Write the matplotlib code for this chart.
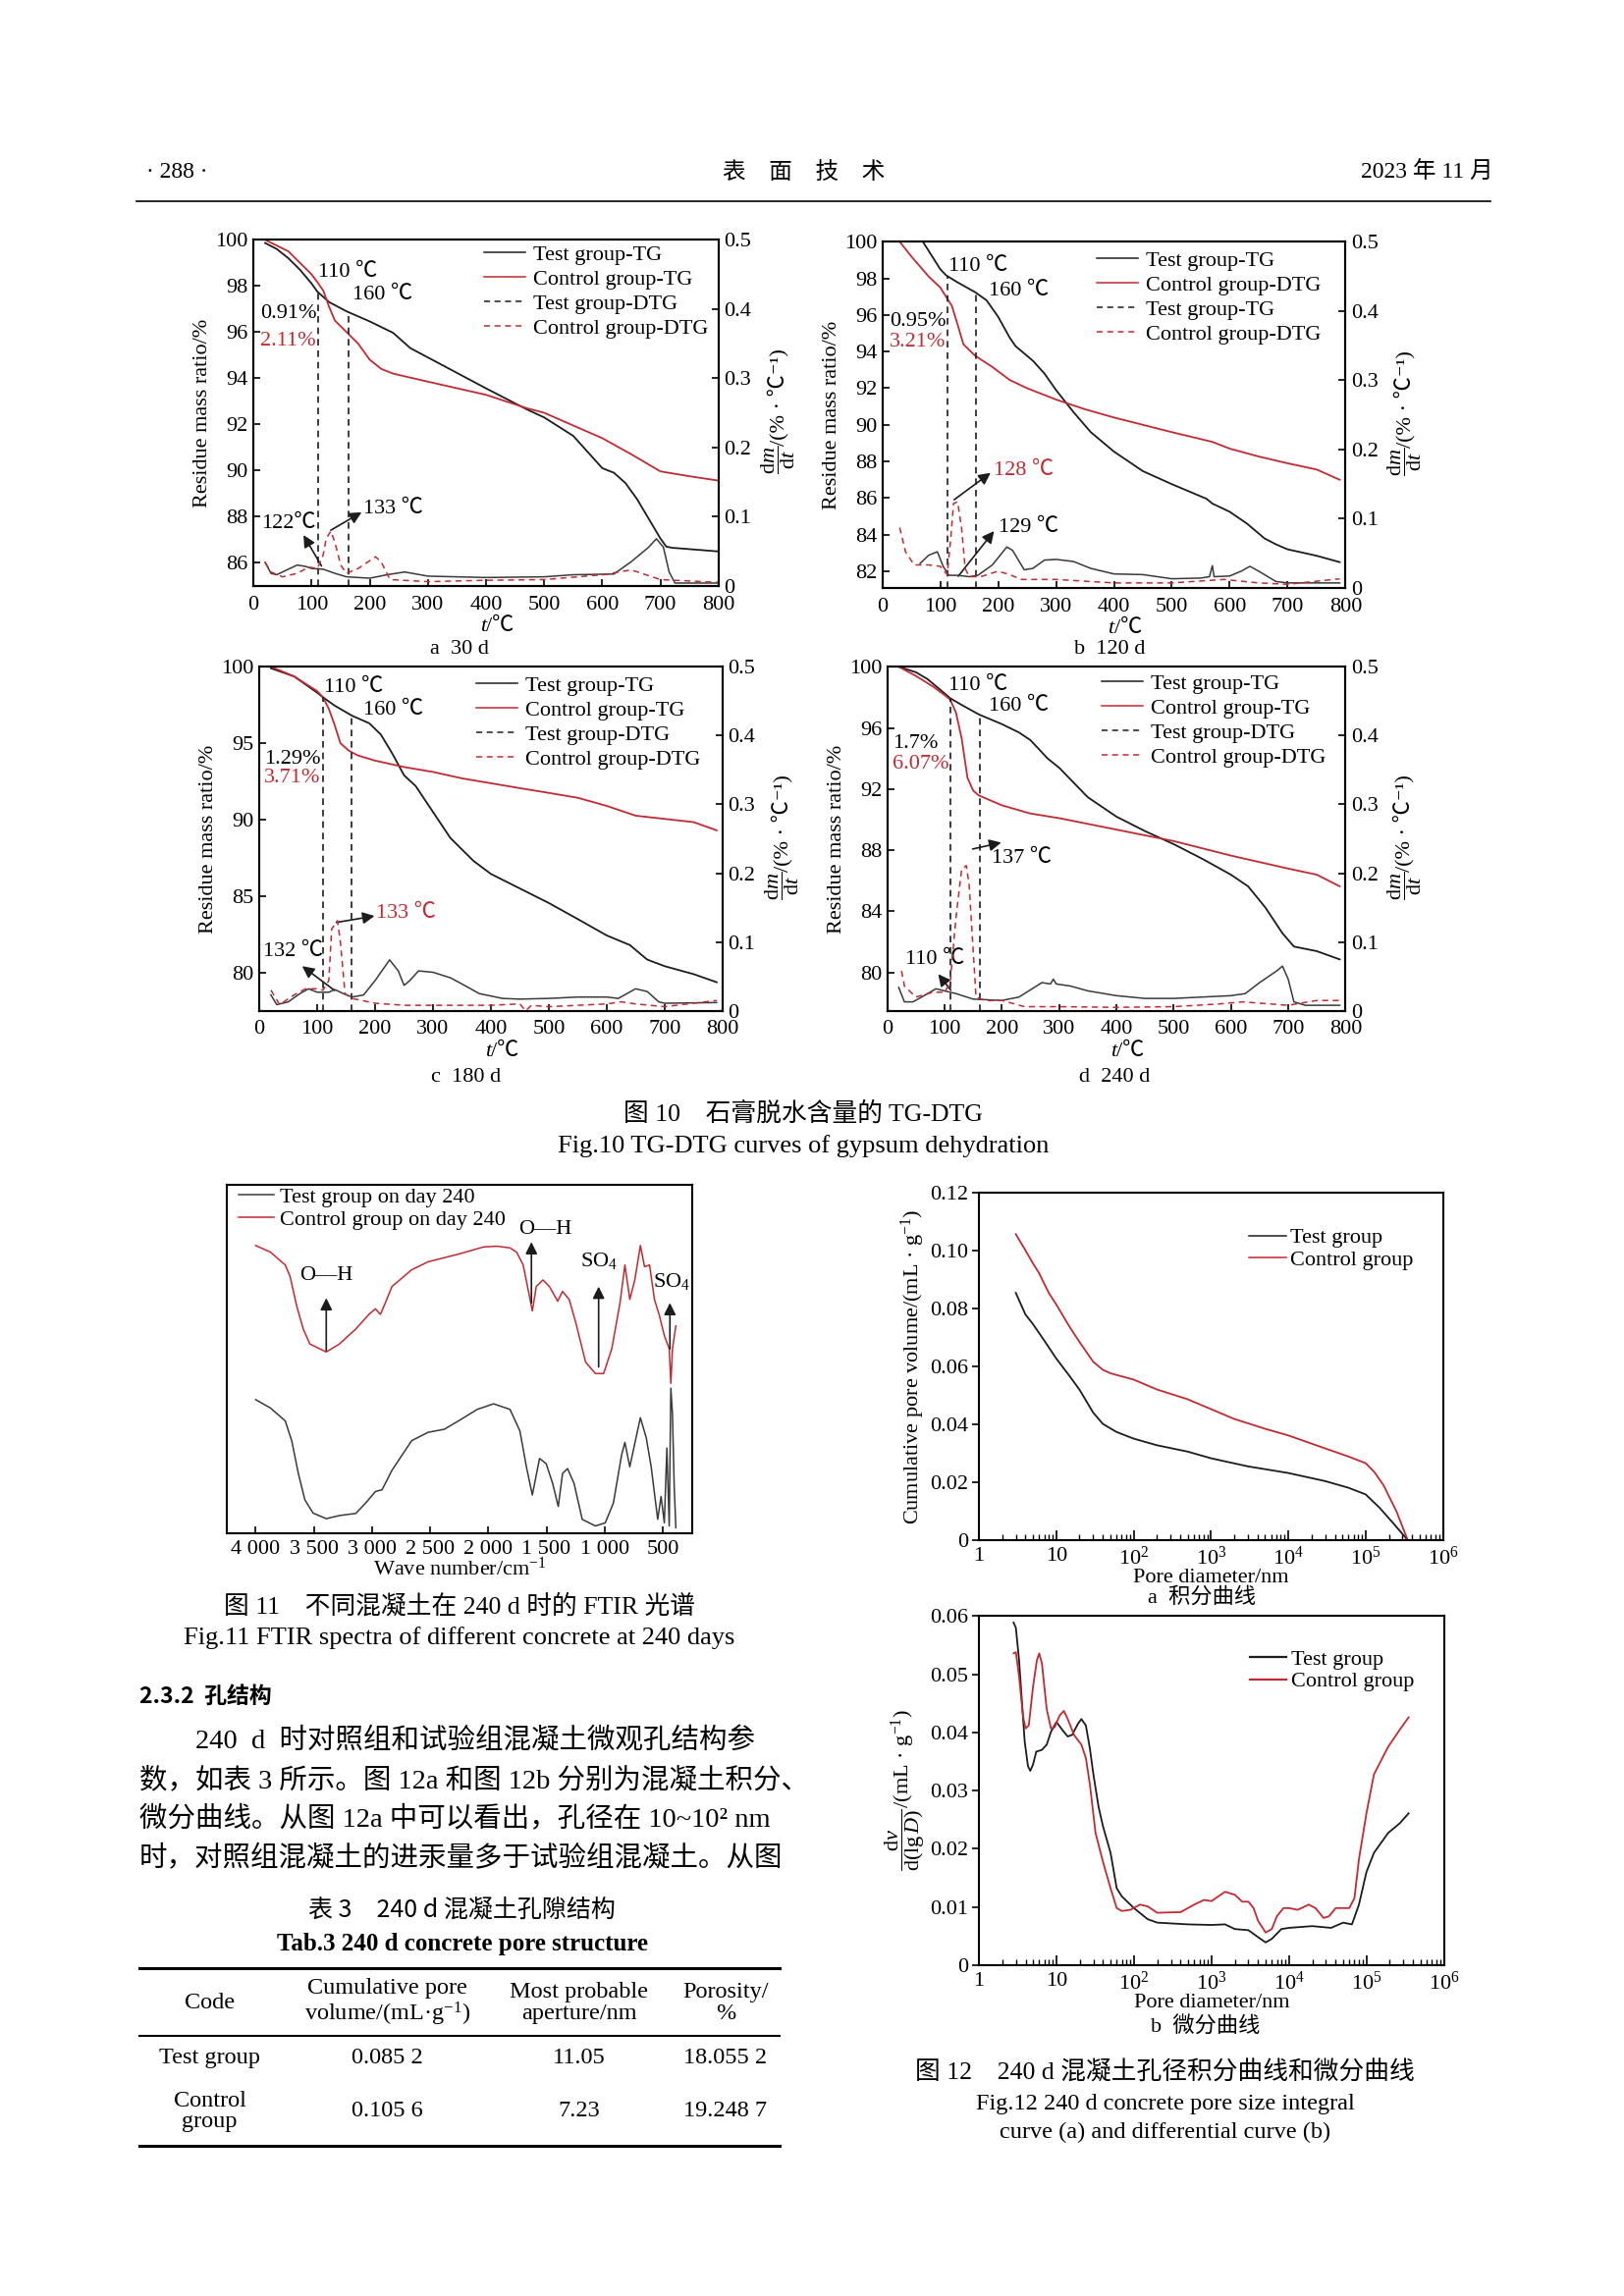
import numpy as np
import matplotlib
matplotlib.use('Agg')
import matplotlib.pyplot as plt
from matplotlib.lines import Line2D
from matplotlib.ticker import FixedLocator, LogLocator, NullFormatter

plt.rcParams['font.family'] = ['Liberation Serif', 'Noto Sans CJK SC', 'DejaVu Sans']
plt.rcParams['mathtext.fontset'] = 'custom'
plt.rcParams['mathtext.rm'] = 'Liberation Serif'
plt.rcParams['mathtext.it'] = 'Liberation Serif:italic'
plt.rcParams['mathtext.bf'] = 'Liberation Serif:bold'
plt.rcParams['axes.linewidth'] = 1.5

# ---------------- data: Fig.10 TG-DTG ----------------
# panel a (30 d)
a_tg_test_t = [20, 40, 60, 80, 100, 110, 130, 160, 200, 240, 270, 300, 400, 470, 500, 550, 600, 620, 640, 660, 680, 700, 710, 720, 760, 800]
a_tg_test = [99.86, 99.6, 99.2, 98.7, 98.1, 97.75, 97.3, 96.9, 96.46, 95.97, 95.3, 94.9, 93.56, 92.65, 92.3, 91.5, 90.1, 89.9, 89.45, 88.75, 87.9, 87.05, 86.7, 86.65, 86.57, 86.49]
a_tg_ctrl_t = [20, 60, 100, 110, 120, 130, 140, 160, 180, 200, 220, 240, 300, 400, 470, 500, 600, 650, 700, 750, 800]
a_tg_ctrl = [100, 99.5, 98.5, 98.16, 97.8, 97.1, 96.5, 96.0, 95.5, 94.8, 94.4, 94.2, 93.85, 93.28, 92.7, 92.5, 91.4, 90.7, 89.96, 89.75, 89.56]
a_dtg_test_t = [20, 30, 40, 55, 75, 90, 100, 120, 140, 160, 200, 230, 260, 300, 400, 500, 550, 620, 650, 680, 693, 705, 715, 725, 800]
a_dtg_test = [0.034, 0.018, 0.016, 0.022, 0.030, 0.028, 0.025, 0.024, 0.018, 0.013, 0.011, 0.016, 0.020, 0.014, 0.012, 0.013, 0.016, 0.017, 0.035, 0.056, 0.068, 0.056, 0.020, 0.004, 0.004]
a_dtg_ctrl_t = [20, 30, 50, 75, 95, 110, 120, 125, 133, 140, 150, 160, 180, 210, 220, 235, 300, 400, 500, 600, 650, 700, 800]
a_dtg_ctrl = [0.034, 0.020, 0.013, 0.018, 0.027, 0.025, 0.045, 0.068, 0.079, 0.063, 0.030, 0.018, 0.025, 0.042, 0.034, 0.009, 0.006, 0.008, 0.009, 0.016, 0.023, 0.009, 0.005]

# panel b (120 d)
b_tg_test_t = [70, 90, 100, 110, 130, 160, 180, 200, 220, 230, 260, 280, 300, 330, 360, 400, 450, 500, 560, 570, 600, 630, 660, 680, 700, 750, 790]
b_tg_test = [100, 99.0, 98.5, 98.17, 97.78, 97.25, 96.8, 95.9, 94.76, 94.3, 93.5, 92.8, 91.9, 90.7, 89.6, 88.54, 87.47, 86.76, 85.96, 85.7, 85.25, 84.6, 83.8, 83.47, 83.2, 82.85, 82.5]
b_tg_ctrl_t = [30, 50, 80, 100, 110, 120, 130, 140, 160, 190, 220, 250, 300, 350, 400, 500, 570, 600, 650, 700, 750, 790]
b_tg_ctrl = [100, 99.2, 98.1, 97.5, 97.0, 96.5, 95.47, 94.4, 93.78, 93.16, 92.45, 92.0, 91.38, 90.85, 90.4, 89.6, 89.07, 88.7, 88.27, 87.9, 87.56, 87.0]
b_dtg_test_t = [65, 80, 95, 105, 115, 130, 150, 165, 190, 215, 225, 245, 260, 280, 300, 330, 360, 400, 450, 500, 550, 565, 570, 573, 600, 620, 635, 650, 680, 700, 790]
b_dtg_test = [0.035, 0.047, 0.052, 0.031, 0.018, 0.018, 0.016, 0.018, 0.033, 0.059, 0.054, 0.026, 0.028, 0.040, 0.041, 0.038, 0.028, 0.020, 0.019, 0.013, 0.014, 0.016, 0.032, 0.016, 0.017, 0.024, 0.031, 0.024, 0.009, 0.007, 0.007]
b_dtg_ctrl_t = [30, 40, 55, 80, 100, 112, 118, 123, 130, 137, 143, 150, 170, 200, 220, 240, 300, 400, 500, 590, 650, 700, 790]
b_dtg_ctrl = [0.087, 0.052, 0.033, 0.033, 0.031, 0.019, 0.070, 0.122, 0.124, 0.085, 0.028, 0.016, 0.016, 0.024, 0.019, 0.012, 0.012, 0.007, 0.007, 0.012, 0.007, 0.005, 0.013]

# panel c (180 d)
c_tg_test_t = [20, 60, 100, 110, 130, 160, 190, 210, 230, 250, 270, 300, 330, 370, 400, 450, 500, 550, 600, 640, 670, 700, 750, 790]
c_tg_test = [99.9, 99.37, 98.3, 98.0, 97.46, 96.8, 96.3, 95.56, 94.3, 92.9, 92.2, 90.5, 88.8, 87.3, 86.45, 85.5, 84.55, 83.5, 82.43, 81.8, 80.85, 80.42, 79.9, 79.37]
c_tg_ctrl_t = [20, 60, 100, 110, 120, 130, 140, 155, 170, 200, 250, 300, 350, 400, 450, 500, 550, 600, 650, 700, 750, 790]
c_tg_ctrl = [100, 99.37, 98.4, 98.0, 97.25, 96.2, 95.0, 94.5, 94.2, 93.86, 93.44, 93.12, 92.7, 92.38, 92.06, 91.75, 91.43, 90.9, 90.26, 90.05, 89.84, 89.3]
c_dtg_test_t = [20, 30, 50, 70, 85, 100, 120, 130, 145, 160, 180, 200, 225, 240, 250, 260, 275, 300, 330, 350, 380, 420, 450, 500, 550, 600, 620, 650, 670, 690, 700, 790]
c_dtg_test = [0.023, 0.009, 0.013, 0.025, 0.032, 0.027, 0.027, 0.031, 0.025, 0.020, 0.023, 0.044, 0.074, 0.058, 0.037, 0.044, 0.058, 0.056, 0.048, 0.039, 0.025, 0.018, 0.017, 0.018, 0.020, 0.020, 0.018, 0.032, 0.028, 0.013, 0.011, 0.012]
c_dtg_ctrl_t = [20, 25, 35, 60, 80, 100, 110, 120, 125, 135, 140, 148, 160, 200, 250, 400, 450, 460, 470, 500, 600, 625, 650, 700, 790]
c_dtg_ctrl = [0.030, 0.023, 0.009, 0.023, 0.032, 0.032, 0.030, 0.044, 0.119, 0.131, 0.100, 0.025, 0.018, 0.011, 0.008, 0.008, 0.010, 0.0, 0.008, 0.006, 0.010, 0.013, 0.010, 0.006, 0.015]

# panel d (240 d)
d_tg_test_t = [20, 50, 70, 100, 110, 130, 160, 200, 230, 250, 280, 300, 350, 400, 450, 500, 550, 600, 630, 660, 690, 710, 750, 790]
d_tg_test = [100, 99.64, 99.2, 98.26, 97.94, 97.5, 96.88, 96.25, 95.7, 95.2, 94.0, 93.4, 91.47, 90.2, 89.25, 88.4, 87.44, 86.4, 85.64, 84.26, 82.57, 81.7, 81.4, 80.86]
d_tg_ctrl_t = [20, 50, 80, 100, 110, 120, 130, 140, 150, 160, 200, 250, 300, 400, 500, 600, 700, 750, 790]
d_tg_ctrl = [100, 99.4, 98.7, 98.15, 97.84, 97.0, 95.3, 92.75, 91.9, 91.58, 90.94, 90.4, 90.1, 89.35, 88.6, 87.65, 86.8, 86.4, 85.64]
d_dtg_test_t = [20, 30, 45, 60, 85, 100, 120, 150, 200, 230, 270, 285, 290, 295, 320, 350, 400, 450, 500, 600, 625, 650, 680, 690, 700, 710, 730, 790]
d_dtg_test = [0.034, 0.013, 0.013, 0.020, 0.032, 0.029, 0.025, 0.017, 0.015, 0.020, 0.041, 0.039, 0.046, 0.039, 0.036, 0.029, 0.022, 0.018, 0.018, 0.022, 0.025, 0.041, 0.058, 0.065, 0.046, 0.013, 0.008, 0.008]
d_dtg_ctrl_t = [25, 30, 50, 80, 100, 110, 120, 130, 138, 143, 150, 155, 170, 200, 240, 300, 400, 500, 580, 620, 700, 750, 790]
d_dtg_ctrl = [0.058, 0.036, 0.020, 0.027, 0.027, 0.041, 0.136, 0.206, 0.211, 0.183, 0.088, 0.020, 0.015, 0.015, 0.006, 0.006, 0.005, 0.006, 0.010, 0.013, 0.008, 0.015, 0.015]

tg_xticks = [0, 100, 200, 300, 400, 500, 600, 700, 800]
dtg_ticks = [0, 0.1, 0.2, 0.3, 0.4, 0.5]
dtg_ticklabels = ['0', '0.1', '0.2', '0.3', '0.4', '0.5']
legend_std = ['Test group-TG', 'Control group-TG', 'Test group-DTG', 'Control group-DTG']
legend_b = ['Test group-TG', 'Control group-DTG', 'Test group-TG', 'Control group-DTG']

# ---------------- data: Fig.11 FTIR ----------------
ftir_ctrl_w = [4000, 3873, 3746, 3704, 3647, 3591, 3534, 3393, 3280, 3139, 3026, 2970, 2927, 2885, 2828, 2659, 2518, 2236, 2038, 1925, 1813, 1756, 1700, 1657, 1621, 1587, 1530, 1474, 1403, 1361, 1304, 1248, 1163, 1079, 1008, 938, 867, 825, 783, 740, 692, 656, 613, 571, 528, 486, 444, 430, 416, 387]
ftir_ctrl = [82.7, 80.8, 77.1, 73.8, 65.3, 58.7, 54.4, 52.1, 54.4, 58.7, 62.9, 64.5, 62.9, 66.2, 70.9, 75.7, 78.0, 80.4, 82.3, 82.5, 82.0, 80.8, 77.1, 70.0, 63.9, 70.9, 72.8, 70.9, 66.7, 69.5, 67.2, 60.6, 49.2, 45.9, 45.9, 53.0, 66.2, 77.1, 67.2, 72.8, 82.7, 76.6, 77.1, 67.2, 62.5, 56.8, 53.0, 43.1, 53.0, 59.6]
ftir_test_w = [4000, 3873, 3746, 3690, 3633, 3577, 3506, 3393, 3280, 3139, 3054, 2970, 2913, 2828, 2659, 2518, 2377, 2236, 2095, 1954, 1813, 1728, 1672, 1621, 1559, 1502, 1446, 1398, 1361, 1318, 1262, 1192, 1079, 994, 924, 853, 825, 783, 735, 692, 642, 599, 571, 543, 514, 486, 464, 444, 430, 416, 401, 387]
ftir_test = [38.4, 36.0, 32.3, 26.6, 17.2, 9.6, 5.8, 4.2, 5.1, 5.7, 8.7, 12.0, 12.5, 18.1, 26.6, 29.0, 29.9, 32.7, 35.6, 37.2, 35.6, 29.4, 19.1, 11.0, 21.5, 20.0, 14.3, 7.7, 17.2, 18.6, 14.3, 4.0, 2.1, 3.0, 8.7, 22.6, 26.1, 19.1, 26.6, 33.2, 27.5, 19.1, 11.5, 4.0, 10.6, 3.0, 24.5, 2.1, 41.7, 34.2, 13.4, 1.6]
ftir_ticks = [4000, 3500, 3000, 2500, 2000, 1500, 1000, 500]
ftir_ticklabels = ['4 000', '3 500', '3 000', '2 500', '2 000', '1 500', '1 000', '500']
ftir_legend = ['Test group on day 240', 'Control group on day 240']

# ---------------- data: Fig.12 pore structure ----------------
cum_test_d = [3, 4, 5, 7, 10, 15, 20, 30, 40, 60, 100, 200, 500, 1000, 3000, 1e4, 3e4, 6e4, 1e5, 1.5e5, 2.3e5, 3.5e5]
cum_test = [0.0855, 0.078, 0.0747, 0.069, 0.0628, 0.0566, 0.052, 0.0441, 0.0402, 0.0374, 0.0351, 0.0328, 0.0306, 0.0283, 0.0255, 0.0232, 0.0204, 0.0181, 0.0158, 0.0113, 0.0057, 0.0]
cum_ctrl_d = [3, 4, 5, 6, 8, 10, 15, 20, 30, 40, 50, 100, 200, 500, 1000, 2000, 5000, 1e4, 3e4, 6e4, 1e5, 1.3e5, 1.7e5, 2.5e5, 3.5e5]
cum_ctrl = [0.1058, 0.1002, 0.0957, 0.0923, 0.0855, 0.0815, 0.0736, 0.0685, 0.0617, 0.0589, 0.0577, 0.0555, 0.0521, 0.0487, 0.0453, 0.0419, 0.0385, 0.0362, 0.0317, 0.0289, 0.0266, 0.0235, 0.019, 0.010, 0.0]
dif_test_d = [2.8, 3.0, 3.3, 3.6, 3.9, 4.3, 4.6, 5.0, 5.5, 6.5, 7.5, 8.5, 10, 12, 14, 16, 19, 21, 24, 27, 30, 35, 40, 50, 60, 70, 100, 150, 200, 500, 1000, 1500, 2000, 3000, 4000, 5000, 6000, 8000, 1e4, 2e4, 3.5e4, 5e4, 6.5e4, 8e4, 1e5, 1.25e5, 1.9e5, 2.7e5, 3.5e5]
dif_test = [0.0589, 0.058, 0.0524, 0.0451, 0.0384, 0.0342, 0.0334, 0.0345, 0.0367, 0.037, 0.0379, 0.0401, 0.0418, 0.0404, 0.0393, 0.0396, 0.0415, 0.0423, 0.0412, 0.0373, 0.0328, 0.0272, 0.0238, 0.0193, 0.0132, 0.0118, 0.0098, 0.0079, 0.0073, 0.007, 0.0069, 0.007, 0.0062, 0.006, 0.0048, 0.0039, 0.0045, 0.0062, 0.0064, 0.0067, 0.0064, 0.0073, 0.007, 0.0104, 0.016, 0.0193, 0.0227, 0.0244, 0.0261]
dif_ctrl_d = [2.8, 3.0, 3.3, 3.7, 4.0, 4.4, 5.0, 5.6, 6.0, 6.5, 7.5, 8.5, 9.5, 11, 12.5, 14, 17, 21, 24, 27, 32, 40, 50, 60, 70, 90, 120, 150, 200, 400, 600, 800, 1000, 1500, 2000, 2500, 3000, 3500, 4000, 5000, 6000, 7000, 8500, 1e4, 1.3e4, 1.8e4, 2.2e4, 2.8e4, 3.3e4, 4e4, 5e4, 6e4, 7e4, 8e4, 1e5, 1.25e5, 1.9e5, 2.7e5, 3.5e5]
dif_ctrl = [0.0536, 0.0538, 0.0496, 0.0429, 0.0407, 0.0412, 0.0479, 0.0524, 0.0536, 0.0519, 0.044, 0.0407, 0.0409, 0.0429, 0.0437, 0.0423, 0.0395, 0.0379, 0.0356, 0.0311, 0.0227, 0.0177, 0.0132, 0.0098, 0.0093, 0.0095, 0.0104, 0.0101, 0.009, 0.0091, 0.0104, 0.0112, 0.011, 0.0126, 0.0121, 0.0109, 0.0109, 0.0098, 0.0076, 0.0056, 0.0062, 0.0084, 0.0098, 0.0098, 0.0095, 0.0104, 0.0098, 0.0081, 0.0084, 0.0098, 0.0098, 0.0098, 0.0115, 0.0182, 0.0261, 0.0328, 0.0375, 0.0405, 0.0426]
pore_xticks = [1, 10, 100, 1e3, 1e4, 1e5, 1e6]
pore_xticklabels = ['1', '10', '10$^2$', '10$^3$', '10$^4$', '10$^5$', '10$^6$']
cum_yticks = [0, 0.02, 0.04, 0.06, 0.08, 0.10, 0.12]
cum_yticklabels = ['0', '0.02', '0.04', '0.06', '0.08', '0.10', '0.12']
dif_yticks = [0, 0.01, 0.02, 0.03, 0.04, 0.05, 0.06]
dif_yticklabels = ['0', '0.01', '0.02', '0.03', '0.04', '0.05', '0.06']
pore_legend = ['Test group', 'Control group']

# ---------------- data: Tab.3 ----------------
tab_header = ['Code', 'Cumulative pore\nvolume/(mL·g$^{-1}$)', 'Most probable\naperture/nm', 'Porosity/\n%']
tab_codes = ['Test group', 'Control\ngroup']
tab_cum_volume = ['0.085 2', '0.105 6']
tab_aperture = ['11.05', '7.23']
tab_porosity = ['18.055 2', '19.248 7']

# ---------------- figure ----------------
W, H = 1654, 2339
K = 0.993  # page-coordinate calibration
fig = plt.figure(figsize=(W / 100, H / 100), dpi=100)
BLACK = '#1c1c1c'
GRAY = '#3a3a3a'
RED = '#c22a32'
FS = 16
LW = 1.3


def add_ax(x0, y0, x1, y1):
    x0, y0, x1, y1 = [v * K for v in (x0, y0, x1, y1)]
    return fig.add_axes([x0 / W, 1 - y1 / H, (x1 - x0) / W, (y1 - y0) / H])


def ftext(x, y, s, **kw):
    kw.setdefault('ha', 'center')
    kw.setdefault('va', 'center')
    return fig.text(x * K / W, 1 - y * K / H, s, **kw)


def hrule(x0, x1, y, lw):
    fig.add_artist(Line2D([x0 * K / W, x1 * K / W], [1 - y * K / H, 1 - y * K / H], color='black', lw=lw))


def arrow(ax, tip, tail, color=BLACK):
    ax.annotate('', xy=tip, xytext=tail,
                arrowprops=dict(arrowstyle='-|>', color=color, lw=1.2, mutation_scale=18, shrinkA=0, shrinkB=0))


def tg_panel(box, ylim, yticks, tg_test_t, tg_test, tg_ctrl_t, tg_ctrl,
             dtg_test_t, dtg_test, dtg_ctrl_t, dtg_ctrl, marks, labels, leg_anchor):
    ax = add_ax(*box)
    ax.plot(tg_test_t, tg_test, color=BLACK, lw=LW)
    ax.plot(tg_ctrl_t, tg_ctrl, color=RED, lw=LW)
    ax.set_xlim(0, 800)
    ax.set_ylim(*ylim)
    ax.set_xticks(tg_xticks)
    ax.set_yticks(yticks)
    ax.tick_params(labelsize=FS, direction='in', length=5, width=1.2, pad=4)
    ax.tick_params(axis='x', pad=7)
    ax.set_ylabel('Residue mass ratio/%', fontsize=FS, labelpad=2)
    # x label "t/℃" (italic t)
    ax.text(0.5, -0.118, 't', transform=ax.transAxes, fontsize=FS, style='italic', ha='right', va='center')
    ax.text(0.5, -0.118, '/℃', transform=ax.transAxes, fontsize=FS, ha='left', va='center')
    for t in marks:
        top = np.interp(t, tg_test_t, tg_test)
        ax.vlines(t, ylim[0], top, colors=BLACK, linestyles=(0, (4, 3)), lw=1.2)
    tw = ax.twinx()
    tw.plot(dtg_test_t, dtg_test, color=GRAY, lw=1.1)
    tw.plot(dtg_ctrl_t, dtg_ctrl, color=RED, lw=1.1, ls=(0, (4, 3)))
    tw.set_ylim(0, 0.5)
    tw.set_yticks(dtg_ticks)
    tw.set_yticklabels(dtg_ticklabels)
    tw.tick_params(labelsize=FS, direction='in', length=5, width=1.2, pad=4)
    # right label: dm/dt /(%·℃^-1)
    tw.text(1.128, 0.405, r'$\dfrac{\mathrm{d}m}{\mathrm{d}t}$', transform=tw.transAxes, fontsize=FS,
            rotation=90, ha='center', va='top')
    tw.text(1.128, 0.405, '/(% · ℃⁻¹)', transform=tw.transAxes, fontsize=FS,
            rotation=90, ha='center', va='bottom')
    handles = [Line2D([], [], color=BLACK, lw=1.1), Line2D([], [], color=RED, lw=1.1),
               Line2D([], [], color=BLACK, lw=1.1, ls=(0, (4, 3))), Line2D([], [], color=RED, lw=1.1, ls=(0, (4, 3)))]
    ax.legend(handles, labels, loc='upper left', bbox_to_anchor=leg_anchor, frameon=False,
              fontsize=FS, handlelength=1.9, handletextpad=0.35, labelspacing=0.2,
              borderpad=0, borderaxespad=0)
    return ax


# panel a
axa = tg_panel((260, 246, 737, 601), (85, 100), [86, 88, 90, 92, 94, 96, 98, 100],
               a_tg_test_t, a_tg_test, a_tg_ctrl_t, a_tg_ctrl,
               a_dtg_test_t, a_dtg_test, a_dtg_ctrl_t, a_dtg_ctrl, [112, 164], legend_std, (0.495, 0.985))
axa.text(111, 98.6, '110 ℃', fontsize=FS, va='center')
axa.text(171, 97.6, '160 ℃', fontsize=FS, va='center')
axa.text(12, 96.8, '0.91%', fontsize=FS, va='center')
axa.text(12, 95.6, '2.11%', fontsize=FS, va='center', color=RED)
axa.text(14, 87.7, '122℃', fontsize=FS, va='center')
axa.text(189, 88.33, '133 ℃', fontsize=FS, va='center')
arrow(axa, (86, 87.2), (117, 85.86))
arrow(axa, (186, 88.19), (133, 87.41))
ftext(471, 666, 'a  30 d', fontsize=FS)

# panel b
axb = tg_panel((905, 248, 1380, 603), (81.1, 100), [82, 84, 86, 88, 90, 92, 94, 96, 98, 100],
               b_tg_test_t, b_tg_test, b_tg_ctrl_t, b_tg_ctrl,
               b_dtg_test_t, b_dtg_test, b_dtg_ctrl_t, b_dtg_ctrl, [112, 162], legend_b, (0.462, 0.975))
axb.text(115, 98.67, '110 ℃', fontsize=FS, va='center')
axb.text(184, 97.33, '160 ℃', fontsize=FS, va='center')
axb.text(13, 95.65, '0.95%', fontsize=FS, va='center')
axb.text(13, 94.5, '3.21%', fontsize=FS, va='center', color=RED)
axb.text(193, 87.47, '128 ℃', fontsize=FS, va='center', color=RED)
axb.text(201, 84.36, '129 ℃', fontsize=FS, va='center')
arrow(axb, (187, 87.38), (124, 85.91))
arrow(axb, (193, 84.2), (131, 81.73))
ftext(1138, 666, 'b  120 d', fontsize=FS)

# panel c
axc = tg_panel((266, 684, 741, 1037), (77.5, 100), [80, 85, 90, 95, 100],
               c_tg_test_t, c_tg_test, c_tg_ctrl_t, c_tg_ctrl,
               c_dtg_test_t, c_dtg_test, c_dtg_ctrl_t, c_dtg_ctrl, [110, 160], legend_std, (0.468, 0.975))
axc.text(111, 98.62, '110 ℃', fontsize=FS, va='center')
axc.text(180, 97.14, '160 ℃', fontsize=FS, va='center')
axc.text(8, 93.97, '1.29%', fontsize=FS, va='center')
axc.text(8, 92.7, '3.71%', fontsize=FS, va='center', color=RED)
axc.text(202, 83.85, '133 ℃', fontsize=FS, va='center', color=RED)
axc.text(6, 81.38, '132 ℃', fontsize=FS, va='center')
arrow(axc, (199, 83.7), (133, 83.28))
arrow(axc, (74, 80.42), (130, 78.83))
ftext(478, 1105, 'c  180 d', fontsize=FS)

# panel d
axd = tg_panel((910, 684, 1380, 1037), (77.5, 100), [80, 84, 88, 92, 96, 100],
               d_tg_test_t, d_tg_test, d_tg_ctrl_t, d_tg_ctrl,
               d_dtg_test_t, d_dtg_test, d_dtg_ctrl_t, d_dtg_ctrl, [111, 161], legend_std, (0.468, 0.98))
axd.text(107, 98.79, '110 ℃', fontsize=FS, va='center')
axd.text(177, 97.41, '160 ℃', fontsize=FS, va='center')
axd.text(9, 94.97, '1.7%', fontsize=FS, va='center')
axd.text(9, 93.64, '6.07%', fontsize=FS, va='center', color=RED)
axd.text(183, 87.44, '137 ℃', fontsize=FS, va='center')
axd.text(32, 80.87, '110 ℃', fontsize=FS, va='center')
arrow(axd, (199, 88.5), (149, 88.08))
arrow(axd, (89, 79.9), (111, 78.85))
ftext(1143, 1105, 'd  240 d', fontsize=FS)

# ---------------- FTIR ----------------
axf = add_ax(233, 1216, 710, 1573)
axf.plot(ftir_test_w, ftir_test, color=GRAY, lw=1.1)
axf.plot(ftir_ctrl_w, ftir_ctrl, color=RED, lw=1.1)
axf.set_xlim(4245, 246)
axf.set_ylim(0, 100)
axf.set_yticks([])
axf.set_xticks(ftir_ticks)
axf.set_xticklabels(ftir_ticklabels)
axf.tick_params(labelsize=FS, direction='in', length=5, width=1.2, pad=5)
axf.set_xlabel('Wave number/cm$^{-1}$', fontsize=FS, labelpad=-1)
axf.legend([Line2D([], [], color=GRAY, lw=1.1), Line2D([], [], color=RED, lw=1.1)],
           ftir_legend, loc='upper left',
           bbox_to_anchor=(0.025, 0.995), frameon=False, fontsize=FS, handlelength=1.6,
           handletextpad=0.3, labelspacing=0.1, borderpad=0, borderaxespad=0)
for w, y0, y1, lab, tx, ty in [(3393, 52.5, 67.6, 'O—H', 3393, 71.5), (1629, 66.2, 83.7, 'O—H', 1511, 84.5),
                               (1051, 47.8, 70.9, 'SO$_4$', 1051, 75.2), (438, 53.0, 66.2, 'SO$_4$', 425, 69.5)]:
    arrow(axf, (w, y1), (w, y0))
    axf.text(tx, ty, lab, fontsize=FS, ha='center', va='bottom')
ftext(471, 1648, '图 11　不同混凝土在 240 d 时的 FTIR 光谱', fontsize=18.5)
ftext(471, 1680, 'Fig.11 FTIR spectra of different concrete at 240 days', fontsize=19)

# ---------------- pore curves ----------------
def pore_axes(box):
    ax = add_ax(*box)
    ax.set_xscale('log')
    ax.set_xlim(1, 1e6)
    ax.xaxis.set_major_locator(FixedLocator(pore_xticks))
    ax.set_xticklabels(pore_xticklabels)
    ax.xaxis.set_minor_locator(LogLocator(base=10, subs=np.arange(2, 10), numticks=20))
    ax.xaxis.set_minor_formatter(NullFormatter())
    ax.tick_params(axis='x', which='major', direction='in', length=7, width=1.2, labelsize=FS, pad=5)
    ax.tick_params(axis='x', which='minor', direction='in', length=4, width=1.0)
    ax.tick_params(axis='y', direction='out', length=5, width=1.2, labelsize=FS, pad=3)
    ax.set_xlabel('Pore diameter/nm', fontsize=FS, labelpad=-1)
    return ax


axp = pore_axes((1004, 1224, 1480, 1580))
axp.plot(cum_test_d, cum_test, color=BLACK, lw=LW)
axp.plot(cum_ctrl_d, cum_ctrl, color=RED, lw=LW)
axp.set_ylim(0, 0.12)
axp.set_yticks(cum_yticks)
axp.set_yticklabels(cum_yticklabels)
axp.set_ylabel('Cumulative pore volume/(mL · g$^{-1}$)', fontsize=FS, labelpad=2)
axp.legend([Line2D([], [], color=BLACK, lw=1.1), Line2D([], [], color=RED, lw=1.1)], pore_legend,
           loc='upper left', bbox_to_anchor=(0.582, 0.9), frameon=False, fontsize=FS,
           handlelength=1.7, handletextpad=0.2, labelspacing=0.1, borderpad=0, borderaxespad=0)
ftext(1233, 1639, 'a  积分曲线', fontsize=FS)

axq = pore_axes((1004, 1658, 1481, 2016))
axq.plot(dif_test_d, dif_test, color=BLACK, lw=LW)
axq.plot(dif_ctrl_d, dif_ctrl, color=RED, lw=LW)
axq.set_ylim(0, 0.06)
axq.set_yticks(dif_yticks)
axq.set_yticklabels(dif_yticklabels)
axq.set_ylabel(r'$\dfrac{\mathrm{d}v}{\mathrm{d}(\mathrm{lg}\,D)}$/(mL · g$^{-1}$)', fontsize=FS, labelpad=2)
axq.legend([Line2D([], [], color=BLACK, lw=1.6), Line2D([], [], color=RED, lw=1.6)], pore_legend,
           loc='upper left', bbox_to_anchor=(0.582, 0.905), frameon=False, fontsize=FS,
           handlelength=1.7, handletextpad=0.2, labelspacing=0.1, borderpad=0, borderaxespad=0)
ftext(1236, 2080, 'b  微分曲线', fontsize=FS)

# ---------------- page text ----------------
hrule(140, 1529, 206, 1.2)
ftext(150, 177, '· 288 ·', fontsize=17, ha='left')
ftext(824, 177, '表　面　技　术', fontsize=17)
ftext(1531, 177, '2023 年 11 月', fontsize=17, ha='right')

ftext(824, 1143, '图 10　石膏脱水含量的 TG-DTG', fontsize=18.5)
ftext(824, 1176, 'Fig.10 TG-DTG curves of gypsum dehydration', fontsize=19)

ftext(143, 1740, '2.3.2  孔结构', fontsize=16.5, ha='left', family=['Noto Sans CJK SC'], weight='bold')
body_lines = ['240  d  时对照组和试验组混凝土微观孔结构参',
              '数，如表 3 所示。图 12a 和图 12b 分别为混凝土积分、',
              '微分曲线。从图 12a 中可以看出，孔径在 10~10² nm',
              '时，对照组混凝土的进汞量多于试验组混凝土。从图']
body_x = [200, 143, 143, 143]
body_y = [1786, 1827, 1866, 1907]
for s, x, y in zip(body_lines, body_x, body_y):
    ftext(x, y, s, fontsize=20.5, ha='left')

ftext(474, 1959, '表 3　240 d 混凝土孔隙结构', fontsize=18, family=['Noto Sans CJK SC'], weight='medium')
ftext(474, 1994, 'Tab.3 240 d concrete pore structure', fontsize=18, weight='bold')
for y, lw in [(2019, 2.2), (2089, 1.5), (2201, 2.2)]:
    hrule(143, 800, y, lw)
col_x = [215, 397, 594, 744]
for x, s in zip(col_x, tab_header):
    ftext(x, 2055, s, fontsize=17.5, linespacing=1.05)
for i, y in enumerate([2111, 2166]):
    ftext(col_x[0], y, tab_codes[i], fontsize=17.5, linespacing=1.0)
    ftext(col_x[1], y, tab_cum_volume[i], fontsize=17.5)
    ftext(col_x[2], y, tab_aperture[i], fontsize=17.5)
    ftext(col_x[3], y, tab_porosity[i], fontsize=17.5)

ftext(1195, 2126, '图 12　240 d 混凝土孔径积分曲线和微分曲线', fontsize=18.5)
ftext(1195, 2159, 'Fig.12 240 d concrete pore size integral', fontsize=17.5)
ftext(1195, 2188, 'curve (a) and differential curve (b)', fontsize=17.5)

fig.savefig('out.png', dpi=100, facecolor='white')
